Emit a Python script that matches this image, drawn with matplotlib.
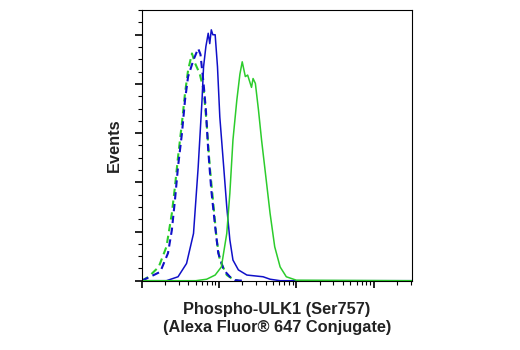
import numpy as np
import matplotlib
matplotlib.use("Agg")
import matplotlib.pyplot as plt
from matplotlib import font_manager
from matplotlib.ticker import LogLocator, NullFormatter, MultipleLocator

# log10 intensity and event values
blue_solid_x = [0.0, 0.32, 0.47, 0.58, 0.67, 0.73, 0.78, 0.80, 0.83, 0.86, 0.88, 0.90, 0.92, 0.95, 0.98, 1.01, 1.06, 1.10, 1.14, 1.18, 1.25, 1.36, 1.57, 1.66, 1.79, 3.5]
blue_solid_y = [0.0, 0.0, 0.08, 0.35, 0.96, 2.3, 3.67, 4.35, 4.76, 5.03, 4.82, 5.1, 5.0, 5.0, 4.35, 3.33, 2.32, 1.5, 0.83, 0.42, 0.22, 0.115, 0.08, 0.03, 0.0, 0.0]

green_solid_x = [0.0, 0.70, 0.84, 0.95, 1.03, 1.10, 1.14, 1.18, 1.23, 1.27, 1.30, 1.34, 1.37, 1.39, 1.42, 1.44, 1.47, 1.51, 1.55, 1.59, 1.66, 1.72, 1.79, 1.87, 2.0, 3.5]
green_solid_y = [0.0, 0.0, 0.03, 0.115, 0.28, 0.96, 1.78, 2.86, 3.67, 4.2, 4.45, 4.15, 4.18, 4.08, 3.93, 4.11, 4.01, 3.47, 2.86, 2.32, 1.37, 0.69, 0.28, 0.08, 0.01, 0.0]

blue_dash_x = [0.0, 0.11, 0.24, 0.34, 0.39, 0.43, 0.47, 0.52, 0.56, 0.60, 0.67, 0.73, 0.76, 0.80, 0.83, 0.86, 0.90, 0.95, 0.99, 1.06, 1.14, 1.21, 1.30]
blue_dash_y = [0.0, 0.08, 0.18, 0.56, 1.03, 1.64, 2.32, 2.99, 3.67, 4.15, 4.49, 4.72, 4.6, 4.01, 3.47, 2.66, 1.84, 1.1, 0.56, 0.22, 0.08, 0.01, 0.0]

green_dash_x = [0.0, 0.09, 0.22, 0.32, 0.39, 0.43, 0.47, 0.52, 0.56, 0.60, 0.65, 0.69, 0.75, 0.80, 0.84, 0.88, 0.93, 0.97, 1.01, 1.10, 1.18, 1.25]
green_dash_y = [0.0, 0.08, 0.28, 0.69, 1.37, 1.91, 2.52, 3.2, 3.81, 4.28, 4.62, 4.42, 4.21, 3.88, 3.2, 2.32, 1.5, 0.83, 0.42, 0.115, 0.03, 0.0]

xlabel = "Phospho-ULK1 (Ser757)\n(Alexa Fluor® 647 Conjugate)"
ylabel = "Events"

blue = "#1010c8"
green = "#2ccc2c"

fig = plt.figure(figsize=(5.2, 3.5), dpi=100)
ax = fig.add_axes([0.2725, 0.198, 0.5205, 0.773])

def X(v):
    return 10 ** np.asarray(v)

ax.plot(X(green_dash_x), green_dash_y, color=green, lw=1.5, dashes=(3.5, 2.2))
ax.plot(X(blue_dash_x), blue_dash_y, color=blue, lw=1.5, dashes=(3.5, 2.2))
ax.plot(X(blue_solid_x), blue_solid_y, color=blue, lw=1.1)
ax.plot(X(green_solid_x), green_solid_y, color=green, lw=1.1)

ax.set_xscale("log")
ax.set_xlim(1, 10 ** 3.5)
ax.set_ylim(0, 5.5)
ax.xaxis.set_major_locator(LogLocator(base=10, numticks=10))
ax.xaxis.set_minor_locator(LogLocator(base=10, subs=np.arange(2, 10), numticks=20))
ax.xaxis.set_major_formatter(NullFormatter())
ax.xaxis.set_minor_formatter(NullFormatter())
ax.yaxis.set_major_locator(MultipleLocator(1))
ax.yaxis.set_minor_locator(MultipleLocator(0.25))
ax.set_yticklabels([])
ax.tick_params(which="major", length=5, width=1.2, direction="out")
ax.tick_params(which="minor", length=3, width=0.8, direction="out")
for s in ax.spines.values():
    s.set_linewidth(0.8)

names = {f.name for f in font_manager.fontManager.ttflist}
if "DejaVu Sans Condensed" in names:
    fam = ["DejaVu Sans Condensed", "DejaVu Sans"]
    fs = 12
else:
    fam = ["Liberation Sans", "DejaVu Sans"]
    fs = 11.8
ax.set_xlabel(xlabel, fontsize=fs, fontweight="bold", family=fam, color="#222222", labelpad=7, linespacing=1.2, fontstretch="condensed")
ax.set_ylabel(ylabel, fontsize=fs, fontweight="bold", family=fam, color="#222222", labelpad=6, fontstretch="condensed")

fig.savefig("out.png", dpi=100)
